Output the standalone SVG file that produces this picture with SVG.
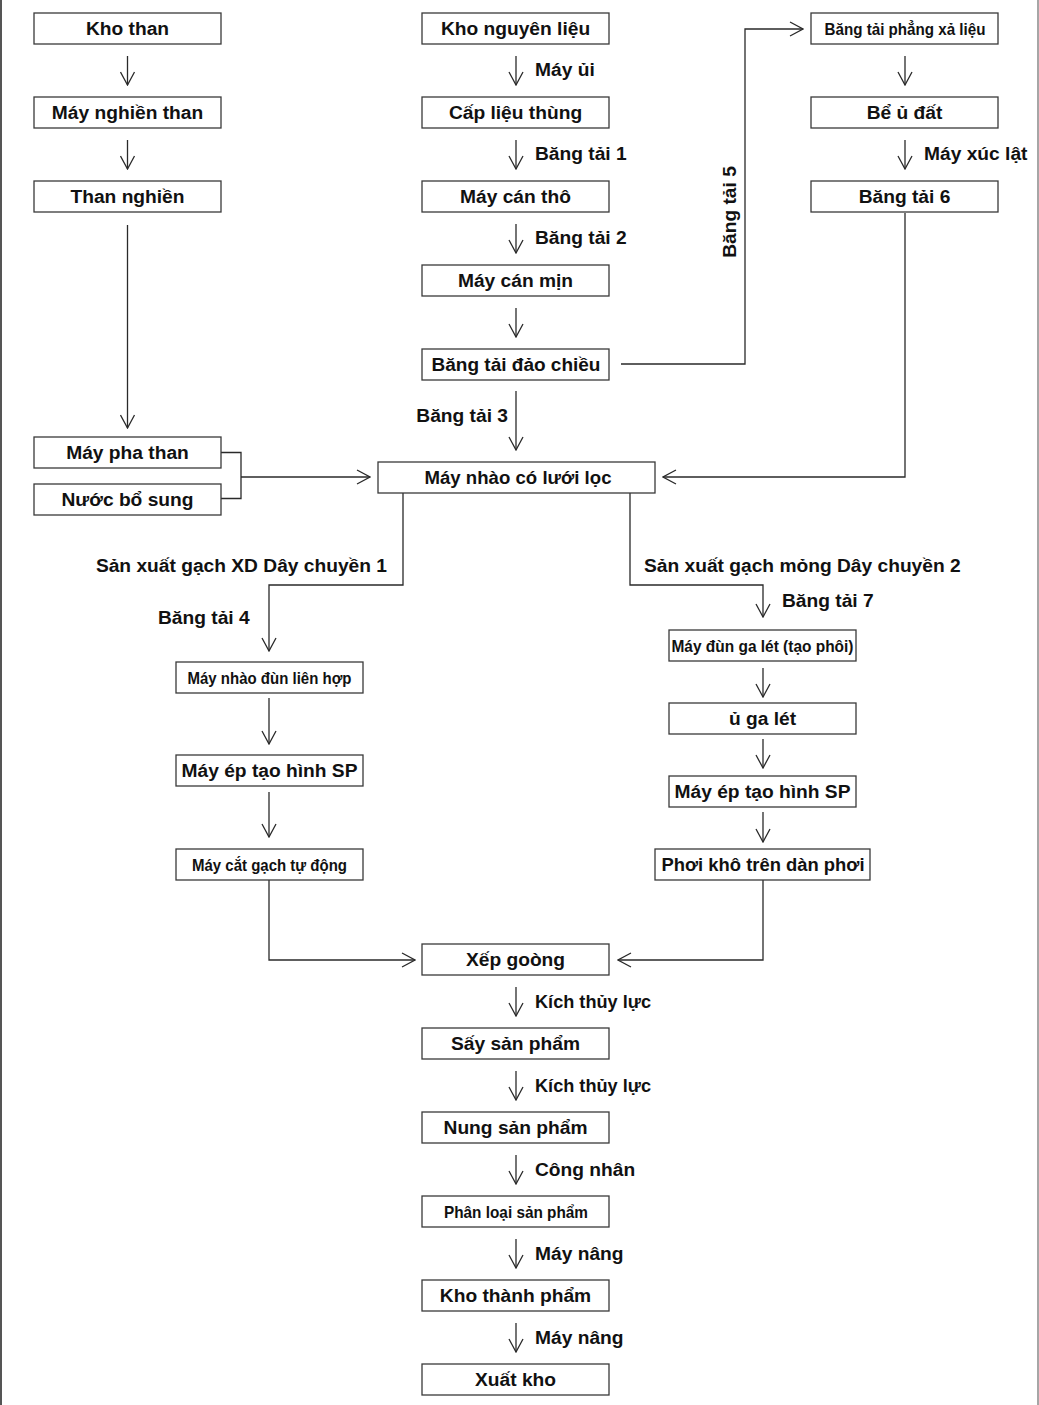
<svg xmlns="http://www.w3.org/2000/svg" width="1039" height="1405" viewBox="0 0 1039 1405">
<style>
.b{fill:#fff;stroke:#3a3a3a;stroke-width:1.3}
.t{font-family:"Liberation Sans",Arial,sans-serif;font-weight:bold;font-size:19.2px;fill:#111;text-anchor:middle}
.n{font-size:17px}
.l{font-family:"Liberation Sans",Arial,sans-serif;font-weight:bold;font-size:19.2px;fill:#111}
.c{fill:none;stroke:#2a2a2a;stroke-width:1.3}
</style>
<defs>
<marker id="a" viewBox="-14 -8 15 16" refX="0" refY="0" markerWidth="15" markerHeight="16" markerUnits="userSpaceOnUse" orient="auto">
<path d="M-13,-7 L0,0 L-13,7" fill="none" stroke="#2a2a2a" stroke-width="1.3"/>
</marker>
</defs>
<rect x="0" y="0" width="1039" height="1405" fill="#fff"/>
<line x1="1" y1="0" x2="1" y2="1405" stroke="#555" stroke-width="2"/>
<line x1="1038" y1="0" x2="1038" y2="1405" stroke="#888" stroke-width="1.5"/>

<g id="connectors">
<path class="c" marker-end="url(#a)" d="M127.5,56 V85"/>
<path class="c" marker-end="url(#a)" d="M127.5,140 V169"/>
<path class="c" marker-end="url(#a)" d="M127.5,225 V428"/>
<path class="c" marker-end="url(#a)" d="M516,56 V85"/>
<path class="c" marker-end="url(#a)" d="M516,140 V169"/>
<path class="c" marker-end="url(#a)" d="M516,224 V253"/>
<path class="c" marker-end="url(#a)" d="M516,308 V337"/>
<path class="c" marker-end="url(#a)" d="M516,391 V450"/>
<path class="c" marker-end="url(#a)" d="M621,364 H745 V29 H803"/>
<path class="c" marker-end="url(#a)" d="M905,56 V85"/>
<path class="c" marker-end="url(#a)" d="M905,140 V169"/>
<path class="c" marker-end="url(#a)" d="M905,213 V477 H663"/>
<path class="c" d="M221,452.5 H241 V498.5 H221"/>
<path class="c" marker-end="url(#a)" d="M241,477 H370"/>
<path class="c" marker-end="url(#a)" d="M403,493 V585 H269 V651"/>
<path class="c" marker-end="url(#a)" d="M630,493 V585 H763 V617"/>
<path class="c" marker-end="url(#a)" d="M269,698 V744"/>
<path class="c" marker-end="url(#a)" d="M269,792 V837"/>
<path class="c" marker-end="url(#a)" d="M269,880 V960 H415"/>
<path class="c" marker-end="url(#a)" d="M763,668 V697"/>
<path class="c" marker-end="url(#a)" d="M763,739 V768"/>
<path class="c" marker-end="url(#a)" d="M763,812 V842"/>
<path class="c" marker-end="url(#a)" d="M763,880 V960 H618"/>
<path class="c" marker-end="url(#a)" d="M516,987 V1016"/>
<path class="c" marker-end="url(#a)" d="M516,1071 V1100"/>
<path class="c" marker-end="url(#a)" d="M516,1155 V1184"/>
<path class="c" marker-end="url(#a)" d="M516,1239 V1268"/>
<path class="c" marker-end="url(#a)" d="M516,1323 V1352"/>
</g>

<g id="labels">
<text class="l" x="535" y="76">Máy ủi</text>
<text class="l" x="535" y="160">Băng tải 1</text>
<text class="l" x="535" y="244">Băng tải 2</text>
<text class="l" x="508" y="422" text-anchor="end">Băng tải 3</text>
<text class="l" transform="translate(736,212) rotate(-90)" text-anchor="middle">Băng tải 5</text>
<text class="l" x="924" y="160">Máy xúc lật</text>
<text class="l" x="387" y="572" text-anchor="end">Sản xuất gạch XD Dây chuyền 1</text>
<text class="l" x="158" y="624">Băng tải 4</text>
<text class="l" x="644" y="572">Sản xuất gạch mỏng Dây chuyền 2</text>
<text class="l" x="782" y="607">Băng tải 7</text>
<text class="l" x="535" y="1008" textLength="116" lengthAdjust="spacingAndGlyphs">Kích thủy lực</text>
<text class="l" x="535" y="1092" textLength="116" lengthAdjust="spacingAndGlyphs">Kích thủy lực</text>
<text class="l" x="535" y="1176">Công nhân</text>
<text class="l" x="535" y="1260">Máy nâng</text>
<text class="l" x="535" y="1344">Máy nâng</text>
</g>

<g id="kho-than"><rect class="b" x="34" y="13" width="187" height="31"/><text class="t" x="127.5" y="35">Kho than</text></g>
<g id="may-nghien-than"><rect class="b" x="34" y="97" width="187" height="31"/><text class="t" x="127.5" y="119">Máy nghiền than</text></g>
<g id="than-nghien"><rect class="b" x="34" y="181" width="187" height="31"/><text class="t" x="127.5" y="203">Than nghiền</text></g>
<g id="may-pha-than"><rect class="b" x="34" y="437" width="187" height="31"/><text class="t" x="127.5" y="459">Máy pha than</text></g>
<g id="nuoc-bo-sung"><rect class="b" x="34" y="484" width="187" height="31"/><text class="t" x="127.5" y="506">Nước bổ sung</text></g>

<g id="kho-nguyen-lieu"><rect class="b" x="422" y="13" width="187" height="31"/><text class="t" x="515.5" y="35">Kho nguyên liệu</text></g>
<g id="cap-lieu-thung"><rect class="b" x="422" y="97" width="187" height="31"/><text class="t" x="515.5" y="119">Cấp liệu thùng</text></g>
<g id="may-can-tho"><rect class="b" x="422" y="181" width="187" height="31"/><text class="t" x="515.5" y="203">Máy cán thô</text></g>
<g id="may-can-min"><rect class="b" x="422" y="265" width="187" height="31"/><text class="t" x="515.5" y="287">Máy cán mịn</text></g>
<g id="bang-tai-dao-chieu"><rect class="b" x="422" y="349" width="187" height="31"/><text class="t" x="516" y="371" textLength="169" lengthAdjust="spacingAndGlyphs">Băng tải đảo chiều</text></g>
<g id="may-nhao-co-luoi-loc"><rect class="b" x="378" y="462" width="277" height="31"/><text class="t" x="518" y="484" textLength="187" lengthAdjust="spacingAndGlyphs">Máy nhào có lưới lọc</text></g>

<g id="bang-tai-phang-xa-lieu"><rect class="b" x="811" y="13" width="187" height="31"/><text class="t n" x="905" y="35" textLength="161" lengthAdjust="spacingAndGlyphs">Băng tải phẳng xả liệu</text></g>
<g id="be-u-dat"><rect class="b" x="811" y="97" width="187" height="31"/><text class="t" x="904.5" y="119">Bể ủ đất</text></g>
<g id="bang-tai-6"><rect class="b" x="811" y="181" width="187" height="31"/><text class="t" x="904.5" y="203">Băng tải 6</text></g>

<g id="may-nhao-dun-lien-hop"><rect class="b" x="176" y="662" width="187" height="31"/><text class="t n" x="269.5" y="684" textLength="164" lengthAdjust="spacingAndGlyphs">Máy nhào đùn liên hợp</text></g>
<g id="may-ep-1"><rect class="b" x="176" y="755" width="187" height="31"/><text class="t" x="269.5" y="777">Máy ép tạo hình SP</text></g>
<g id="may-cat-gach"><rect class="b" x="176" y="849" width="187" height="31"/><text class="t n" x="269.5" y="871" textLength="155" lengthAdjust="spacingAndGlyphs">Máy cắt gạch tự động</text></g>

<g id="may-dun-ga-let"><rect class="b" x="669" y="630" width="187" height="31"/><text class="t n" x="762.5" y="652" textLength="182" lengthAdjust="spacingAndGlyphs">Máy đùn ga lét (tạo phôi)</text></g>
<g id="u-ga-let"><rect class="b" x="669" y="703" width="187" height="31"/><text class="t" x="762.5" y="725">ủ ga lét</text></g>
<g id="may-ep-2"><rect class="b" x="669" y="776" width="187" height="31"/><text class="t" x="762.5" y="798">Máy ép tạo hình SP</text></g>
<g id="phoi-kho"><rect class="b" x="655" y="849" width="215" height="31"/><text class="t" x="763" y="871" textLength="203" lengthAdjust="spacingAndGlyphs">Phơi khô trên dàn phơi</text></g>

<g id="xep-goong"><rect class="b" x="422" y="944" width="187" height="31"/><text class="t" x="515.5" y="966">Xếp goòng</text></g>
<g id="say-san-pham"><rect class="b" x="422" y="1028" width="187" height="31"/><text class="t" x="515.5" y="1050">Sấy sản phẩm</text></g>
<g id="nung-san-pham"><rect class="b" x="422" y="1112" width="187" height="31"/><text class="t" x="515.5" y="1134">Nung sản phẩm</text></g>
<g id="phan-loai-san-pham"><rect class="b" x="422" y="1196" width="187" height="31"/><text class="t n" x="516" y="1218" textLength="144" lengthAdjust="spacingAndGlyphs">Phân loại sản phẩm</text></g>
<g id="kho-thanh-pham"><rect class="b" x="422" y="1280" width="187" height="31"/><text class="t" x="515.5" y="1302">Kho thành phẩm</text></g>
<g id="xuat-kho"><rect class="b" x="422" y="1364" width="187" height="31"/><text class="t" x="515.5" y="1386">Xuất kho</text></g>
</svg>
